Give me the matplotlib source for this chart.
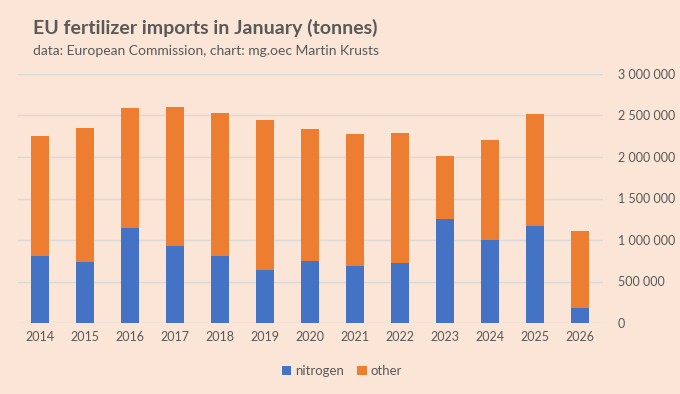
import matplotlib
matplotlib.use('Agg')
import matplotlib.pyplot as plt
import numpy as np

years = ['2014', '2015', '2016', '2017', '2018', '2019', '2020',
         '2021', '2022', '2023', '2024', '2025', '2026']
nitrogen = [811000, 731000, 1145000, 928000, 807000, 635000, 743000,
            691000, 727000, 1249000, 996000, 1173000, 181000]
total = [2253000, 2345000, 2586000, 2598000, 2526000, 2442000, 2337000,
         2273000, 2285000, 2016000, 2201000, 2514000, 1104000]
other = [t - n for t, n in zip(total, nitrogen)]
yticks = [0, 500000, 1000000, 1500000, 2000000, 2500000, 3000000]

bg = '#FBE5D6'
txt = '#595959'
blue = '#4472C4'
orange = '#ED7D31'

plt.rcParams['font.family'] = ['Lato', 'DejaVu Sans']

fig = plt.figure(figsize=(6.8, 3.94), dpi=100, facecolor=bg)
ax = fig.add_axes([17.5 / 680, 1 - 323 / 394, 585 / 680, 249 / 394])
ax.set_facecolor(bg)

x = np.arange(len(years))
ax.bar(x, nitrogen, width=0.41, color=blue, label='nitrogen', zorder=3)
ax.bar(x, other, width=0.41, bottom=nitrogen, color=orange, label='other', zorder=3)

ax.set_xlim(-0.5, len(years) - 0.5)
ax.set_ylim(0, 3000000)
ax.set_yticks(yticks)
ax.set_yticklabels(['{:,}'.format(v).replace(',', ' ') for v in yticks])
ax.yaxis.tick_right()
ax.set_xticks(x)
ax.set_xticklabels(years)
ax.tick_params(axis='both', length=0, colors=txt, labelsize=9)
ax.tick_params(axis='y', pad=11)
ax.tick_params(axis='x', pad=6)
ax.grid(axis='y', color='#D9D9D9', linewidth=1, zorder=0)
for s in ax.spines.values():
    s.set_visible(False)

fig.text(33 / 680, 1 - 28 / 394, 'EU fertilizer imports in January (tonnes)',
         fontsize=14, fontweight='bold', color=txt, va='center')
fig.text(33 / 680, 1 - 51 / 394, 'data: European Commission, chart: mg.oec Martin Krusts',
         fontsize=10, color=txt, va='center')

leg = fig.legend(loc='center', bbox_to_anchor=(342 / 680, 1 - 371 / 394), ncol=2,
                 frameon=False, fontsize=9.5, handlelength=0.7, handleheight=0.7,
                 handletextpad=0.3, columnspacing=1.0)
for t in leg.get_texts():
    t.set_color(txt)

fig.savefig('out.png', dpi=100, facecolor=bg)
